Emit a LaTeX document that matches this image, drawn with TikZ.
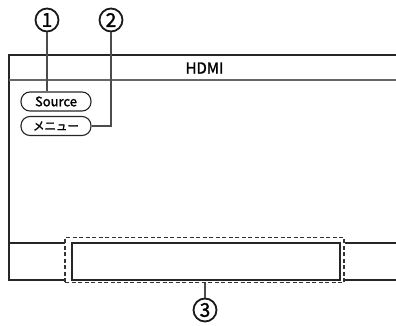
\documentclass[tikz,border=0pt]{standalone}
\usepackage{fontspec}
\setmainfont{Noto Sans CJK JP}[FakeBold=1.2]
\newfontfamily\medfont{Noto Sans CJK JP}[FakeBold=1.6]
\usetikzlibrary{positioning}
\tikzset{
	frameline/.style={line width=2pt, draw=black!85},
	barline/.style={line width=1.4pt, draw=black!60},
	btn/.style={rectangle, rounded corners=9pt, draw=black!85, line width=1.1pt, minimum width=70pt, minimum height=19pt, inner sep=0pt},
	callout/.style={circle, draw=black!90, line width=1.8pt, minimum size=23pt, inner sep=0pt, font=\medfont\fontsize{19}{19}\selectfont},
	leader/.style={line width=1.3pt, draw=black!70},
}
\begin{document}
\begin{tikzpicture}[x=1pt, y=-1pt]
	\useasboundingbox (0,0) rectangle (396,325);
	% screen frame
	\draw[frameline] (396,55) -- (9,55) -- (9,280) -- (65,280);
	\draw[frameline] (345,280) -- (396,280);
	\draw[barline] (9,80) -- (396,80);
	\draw[frameline] (9,243) -- (65,243);
	\draw[frameline] (345,243) -- (396,243);
	\node[font=\medfont\fontsize{15}{15}\selectfont] (title) at (204.5,68) {HDMI};
	% buttons
	\node[btn, font=\medfont\fontsize{13}{13}\selectfont] (source) at (56,101.5) {Source};
	\node[btn, font=\medfont\fontsize{11.5}{11.5}\selectfont] (menu) at (56,126) {メニュー};
	% bottom area
	\node[draw=black!80, dash pattern=on 4pt off 2.5pt, line width=1.1pt, minimum width=279pt, minimum height=45pt] (area) at (204.5,260) {};
	\node[draw=black!85, line width=1.4pt, minimum width=268pt, minimum height=37pt] (bar) at (206,261.5) {};
	% callouts
	\node[callout] (c1) at (47,20) {1};
	\node[callout] (c2) at (111,20) {2};
	\node[callout] (c3) at (205,310) {3};
	\draw[leader] (c1.south) -- (c1.south |- source.north);
	\draw[leader] (c2.south) |- (menu.east);
	\draw[leader] (c3.north |- area.south) -- (c3.north);
\end{tikzpicture}
\end{document}
